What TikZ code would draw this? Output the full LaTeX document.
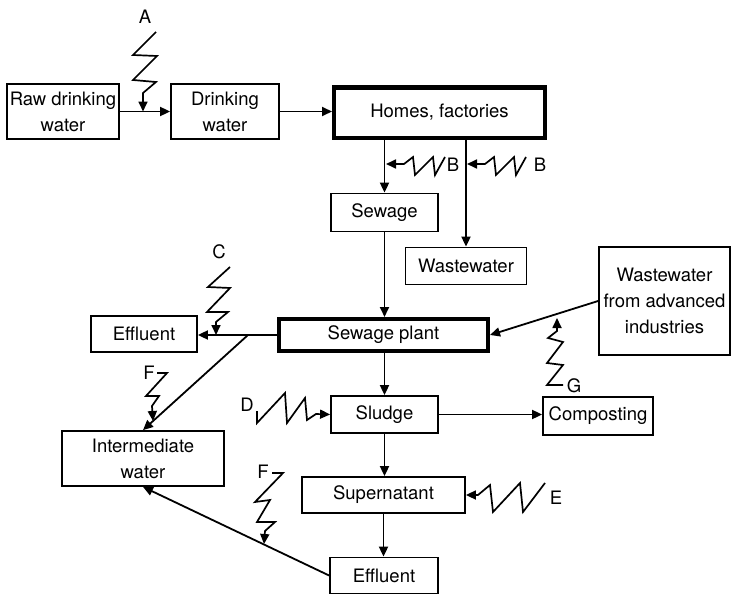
\documentclass[tikz,border=0pt]{standalone}
\usepackage{fontspec}
\setmainfont{TeX Gyre Heros}
\usepackage{tikz}
\usetikzlibrary{arrows.meta, positioning}

\begin{document}
\begin{tikzpicture}[->, >={Triangle[length=10pt, width=9pt]}, x=1pt, y=-1pt, line width=1.8pt,
		box/.style={draw, rectangle, inner sep=0pt, align=center, font=\fontsize{18.5}{26}\selectfont},
		mainbox/.style={box, line width=4pt},
		flash/.style={->, line width=1.7pt, line join=miter},
		letter/.style={inner sep=0pt, font=\fontsize{18.5}{20}\selectfont}]
		\useasboundingbox (0,0) rectangle (731,594);

		\node[box, minimum width=112pt, minimum height=55pt] (raw) at (63,111.5) {Raw drinking\\water};
		\node[box, minimum width=108pt, minimum height=55pt] (drink) at (225,111.5) {Drinking\\water};
		\node[mainbox, minimum width=211pt, minimum height=50pt] (homes) at (439.5,112.5) {Homes, factories};

		\node[box, minimum width=107pt, minimum height=38pt] (sewage) at (384.5,212.5) {Sewage};
		\node[box, minimum width=121pt, minimum height=37pt] (waste) at (466,266) {Wastewater};
		\node[box, minimum width=131pt, minimum height=108pt] (adv) at (664.5,301) {Wastewater\\from advanced\\industries};

		\node[box, minimum width=106pt, minimum height=36pt] (eff1) at (144,334) {Effluent};
		\node[mainbox, minimum width=209pt, minimum height=32pt] (plant) at (383.5,335) {Sewage plant};

		\node[box, minimum width=107pt, minimum height=37pt] (sludge) at (384.5,414.5) {Sludge};
		\node[box, minimum width=110pt, minimum height=38pt] (comp) at (598,416) {Composting};
		\node[box, minimum width=162pt, minimum height=55pt] (inter) at (143,458.5) {Intermediate\\water};
		\node[box, minimum width=163pt, minimum height=36pt] (super) at (383.5,495) {Supernatant};
		\node[box, minimum width=108pt, minimum height=36pt] (eff2) at (384,575.5) {Effluent};

		% flow of the water
		\coordinate (split) at (248,335);
		\path (raw) edge (drink)
			(drink.east) edge (drink.east -| homes.west)
			(sewage.north |- homes.south) edge (sewage.north)
			(waste.north |- homes.south) edge (waste.north)
			(sewage.south) edge (sewage.south |- plant.north)
			(plant.west) edge (plant.west -| eff1.east)
			(plant.south -| sludge.north) edge (sludge.north)
			(sludge.east) edge (sludge.east -| comp.west)
			(sludge.south) edge (sludge.south |- super.north)
			(super.south) edge (super.south |- eff2.north)
			(eff2.west) edge (inter.south)
			(adv.west) edge (plant.east)
			(split) edge (inter.north);

		% inputs A to G
		\coordinate (tipA) at (143,111.5);
		\coordinate (tipB1) at (386,164);
		\coordinate (tipB2) at (467,164);
		\coordinate (tipC) at (216,335);
		\coordinate (tipF1) at (153,421);
		\coordinate (tipF2) at (264,544);
		\coordinate (tipG) at (557,318);

		\draw[flash] (156,32) -- (133,55) -- (157,56) -- (133,80) -- (156,82) -- (143,93) -- (tipA);
		\draw[flash] (445,157) -- (435,175) -- (433,157) -- (415,175) -- (413,157) -- (404,164) -- (tipB1);
		\draw[flash] (526,157) -- (516,175) -- (514,157) -- (496,175) -- (494,157) -- (485,164) -- (tipB2);
		\draw[flash] (230,267) -- (208,287) -- (230,288) -- (207,312) -- (228,312) -- (216,322) -- (tipC);
		\draw[flash] (257,411) -- (257,423) -- (285,393) -- (287,423) -- (305,398) -- (307,420) -- (316,414) -- (sludge.west);
		\draw[flash] (545,483) -- (523,512) -- (520,483) -- (493,512) -- (490,485) -- (478,495) -- (super.east);
		\draw[flash] (157,373) -- (167,373) -- (146,396) -- (159,396) -- (152,406) -- (tipF1);
		\draw[flash] (272,473) -- (283,473) -- (255,502) -- (270,500) -- (257,522) -- (275,522) -- (265,531) -- (tipF2);
		\draw[flash] (563,385) -- (547,385) -- (563,365) -- (547,363) -- (563,342) -- (548,338) -- (557,331) -- (tipG);

		\node[letter] (labA) at (145,17) {A};
		\node[letter] (labB1) at (453,165) {B};
		\node[letter] (labB2) at (540,165) {B};
		\node[letter] (labC) at (219,252) {C};
		\node[letter] (labD) at (247,405) {D};
		\node[letter] (labE) at (556,498) {E};
		\node[letter] (labF1) at (149,373) {F};
		\node[letter] (labF2) at (263,472) {F};
		\node[letter] (labG) at (574,386) {G};
	\end{tikzpicture}
\end{document}
